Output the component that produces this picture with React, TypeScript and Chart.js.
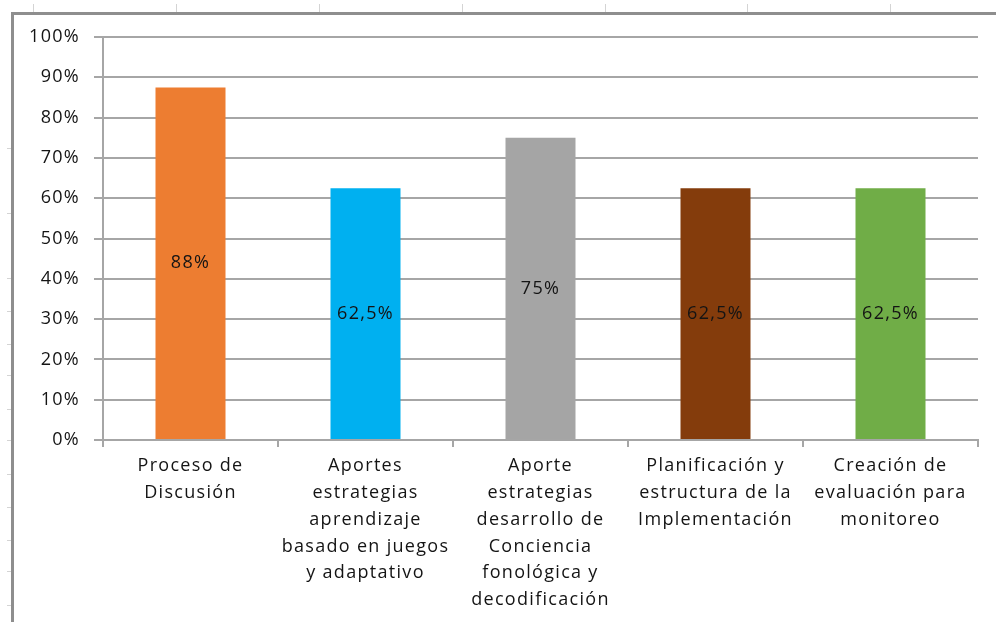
import React, { useEffect, useRef } from "react";
import { Chart, registerables } from "chart.js";

Chart.register(...registerables);

const categories: string[][] = [
  ["Proceso de", "Discusión"],
  ["Aportes", "estrategias", "aprendizaje", "basado en juegos", "y adaptativo"],
  ["Aporte", "estrategias", "desarrollo de", "Conciencia", "fonológica y", "decodificación"],
  ["Planificación y", "estructura de la", "Implementación"],
  ["Creación de", "evaluación para", "monitoreo"],
];
const values: number[] = [87.5, 62.5, 75, 62.5, 62.5];
const valueLabels: string[] = ["88%", "62,5%", "75%", "62,5%", "62,5%"];
const barColors: string[] = ["#ED7D31", "#00B0F0", "#A5A5A5", "#843C0C", "#70AD47"];
const yTicks: number[] = [0, 10, 20, 30, 40, 50, 60, 70, 80, 90, 100];

const FONT = "'Open Sans', 'DejaVu Sans', sans-serif";
const TEXT = "#141414";
const GRID = "#a6a6a6";
const SPACING = "1.3px";

// faint spreadsheet cell-border marks visible outside the chart frame (decoration only)
const sheetColMarks = [33, 176, 319, 462, 605, 747, 890];
const sheetRowMarks = [148, 213, 278, 311, 344, 375, 409, 440, 474, 507, 540, 571, 605];

const spacingPlugin = {
  id: "letterSpacing",
  beforeUpdate(chart: any) {
    (chart.ctx as any).letterSpacing = SPACING;
  },
  beforeDraw(chart: any) {
    (chart.ctx as any).letterSpacing = SPACING;
  },
};

const dataLabelPlugin = {
  id: "centerLabels",
  afterDatasetsDraw(chart: any) {
    const ctx = chart.ctx;
    const meta = chart.getDatasetMeta(0);
    ctx.save();
    (ctx as any).letterSpacing = SPACING;
    ctx.font = `18px ${FONT}`;
    ctx.fillStyle = TEXT;
    ctx.textAlign = "center";
    ctx.textBaseline = "middle";
    meta.data.forEach((el: any, i: number) => {
      const y = (el.y + el.base) / 2;
      ctx.fillText(valueLabels[i], el.x, y);
    });
    ctx.restore();
  },
};

export default function App() {
  const ref = useRef<HTMLCanvasElement | null>(null);
  useEffect(() => {
    if (!ref.current) return;
    const chart = new Chart(ref.current, {
      type: "bar",
      data: {
        labels: categories,
        datasets: [
          {
            data: values,
            backgroundColor: barColors,
            borderWidth: 0,
            barPercentage: 0.4,
            categoryPercentage: 1,
          },
        ],
      },
      options: {
        animation: false,
        responsive: false,
        maintainAspectRatio: false,
        layout: { padding: { left: 0, top: 37, right: 18, bottom: 0 } },
        plugins: { legend: { display: false }, tooltip: { enabled: false } },
        scales: {
          x: {
            offset: true,
            grid: {
              display: true,
              offset: true,
              drawOnChartArea: false,
              drawTicks: true,
              tickLength: 7,
              color: GRID,
              lineWidth: 2,
            },
            border: { display: true, color: GRID, width: 2 },
            ticks: {
              autoSkip: false,
              maxRotation: 0,
              minRotation: 0,
              padding: 6,
              color: TEXT,
              font: { family: FONT, size: 18, lineHeight: "26.7px" as any },
            },
            afterFit(scale: any) {
              scale.height = 182;
            },
          },
          y: {
            min: 0,
            max: 100,
            afterBuildTicks(scale: any) {
              scale.ticks = yTicks.map((v) => ({ value: v }));
            },
            grid: {
              color: GRID,
              lineWidth: 2,
              tickLength: 9,
              drawTicks: true,
            },
            border: { display: true, color: GRID, width: 2 },
            ticks: {
              padding: 14,
              color: TEXT,
              font: { family: FONT, size: 18 },
              callback: (v: any) => `${v}%`,
            },
            afterFit(scale: any) {
              scale.width = 103;
            },
          },
        },
      },
      plugins: [spacingPlugin, dataLabelPlugin],
    });
    return () => chart.destroy();
  }, []);

  return (
    <div style={{ position: "fixed", left: 0, top: 0, width: 996, height: 622, background: "#fff", overflow: "hidden" }}>
      {sheetColMarks.map((x) => (
        <div key={"c" + x} style={{ position: "absolute", left: x, top: 4, width: 1, height: 9, background: "#d4d4d4" }} />
      ))}
      {sheetRowMarks.map((y) => (
        <div key={"r" + y} style={{ position: "absolute", left: 7, top: y, width: 5, height: 1, background: "#d4d4d4" }} />
      ))}
      <div
        style={{
          position: "absolute",
          left: 11,
          top: 12,
          right: -4,
          bottom: -4,
          borderLeft: "3px solid #8e8e8e",
          borderTop: "3px solid #8e8e8e",
        }}
      />
      <canvas ref={ref} width={996} height={622} style={{ position: "absolute", left: 0, top: 0, width: 996, height: 622 }} />
    </div>
  );
}
